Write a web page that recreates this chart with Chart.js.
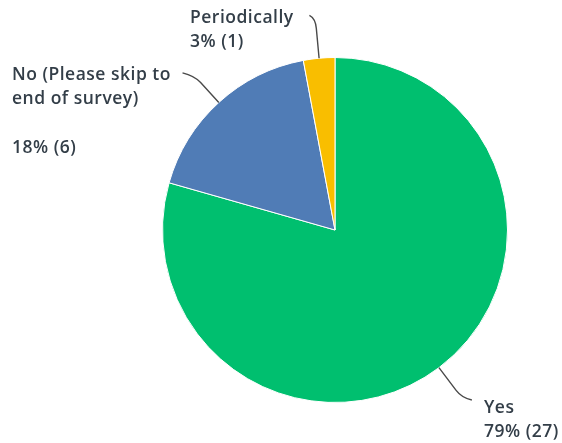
<!DOCTYPE html>
<html>
<head>
<meta charset="utf-8">
<script src="https://cdn.jsdelivr.net/npm/chart.js@4/dist/chart.umd.min.js"></script>
<style>
  html, body { margin: 0; padding: 0; background: #fff; }
  #wrap { width: 562px; height: 443px; }
</style>
</head>
<body>
<div id="wrap"><canvas id="pie-chart" width="562" height="443"></canvas></div>
<script>
// Survey answers (clockwise from 12 o'clock)
const categories = ['Yes', 'No (Please skip to end of survey)', 'Periodically'];
const counts = [27, 6, 1];
const percents = ['79%', '18%', '3%'];
const labelLines = [
    ['Yes', '79% (27)'],
    ['No (Please skip to', 'end of survey)', '', '18% (6)'],
    ['Periodically', '3% (1)']
];
const sliceColors = ['#00BF6F', '#507CB6', '#F9BE00'];

// where each label sits and how its leader line bends
const labelLayout = [
    { x: 484, y: 408, elbow: 38, endDx: 10, endDy: 2 },
    { x: 12, y: 75, elbow: 36, endDx: -12, endDy: -3 },
    { x: 190, y: 18, elbow: 40, endDx: -6, endDy: -3 }
];

const outsideLabels = {
    id: 'outsideLabels',
    afterDraw(chart) {
        const ctx = chart.ctx;
        const meta = chart.getDatasetMeta(0);
        ctx.save();
        ctx.font = '600 17.5px "Open Sans", sans-serif';
        ctx.letterSpacing = '0.5px';
        ctx.fillStyle = '#333e48';
        ctx.textBaseline = 'middle';
        ctx.textAlign = 'left';

        meta.data.forEach((arc, i) => {
            const lay = labelLayout[i];
            const mid = (arc.startAngle + arc.endAngle) / 2;
            const ex = arc.x + Math.cos(mid) * arc.outerRadius;
            const ey = arc.y + Math.sin(mid) * arc.outerRadius;
            const bx = ex + Math.cos(mid) * lay.elbow;
            const by = ey + Math.sin(mid) * lay.elbow;

            // leader line
            ctx.strokeStyle = '#4a4a4a';
            ctx.lineWidth = 1.4;
            ctx.beginPath();
            ctx.moveTo(ex, ey);
            const k = 0.75;
            ctx.lineTo(ex + (bx - ex) * k, ey + (by - ey) * k);
            ctx.quadraticCurveTo(bx, by, bx + lay.endDx, by + lay.endDy);
            ctx.stroke();

            labelLines[i].forEach((line, j) => {
                ctx.fillText(line, lay.x, lay.y + j * 24.5);
            });
        });
        ctx.restore();
    }
};

const ctx = document.getElementById('pie-chart').getContext('2d');
new Chart(ctx, {
    type: 'pie',
    data: {
        labels: categories,
        datasets: [{
            data: counts,
            backgroundColor: sliceColors,
            borderColor: '#ffffff',
            borderWidth: 1
        }]
    },
    options: {
        responsive: false,
        animation: false,
        layout: { padding: { left: 162, right: 54, top: 57, bottom: 40 } },
        plugins: {
            legend: { display: false },
            tooltip: { enabled: false }
        }
    },
    plugins: [outsideLabels]
});
</script>
</body>
</html>
